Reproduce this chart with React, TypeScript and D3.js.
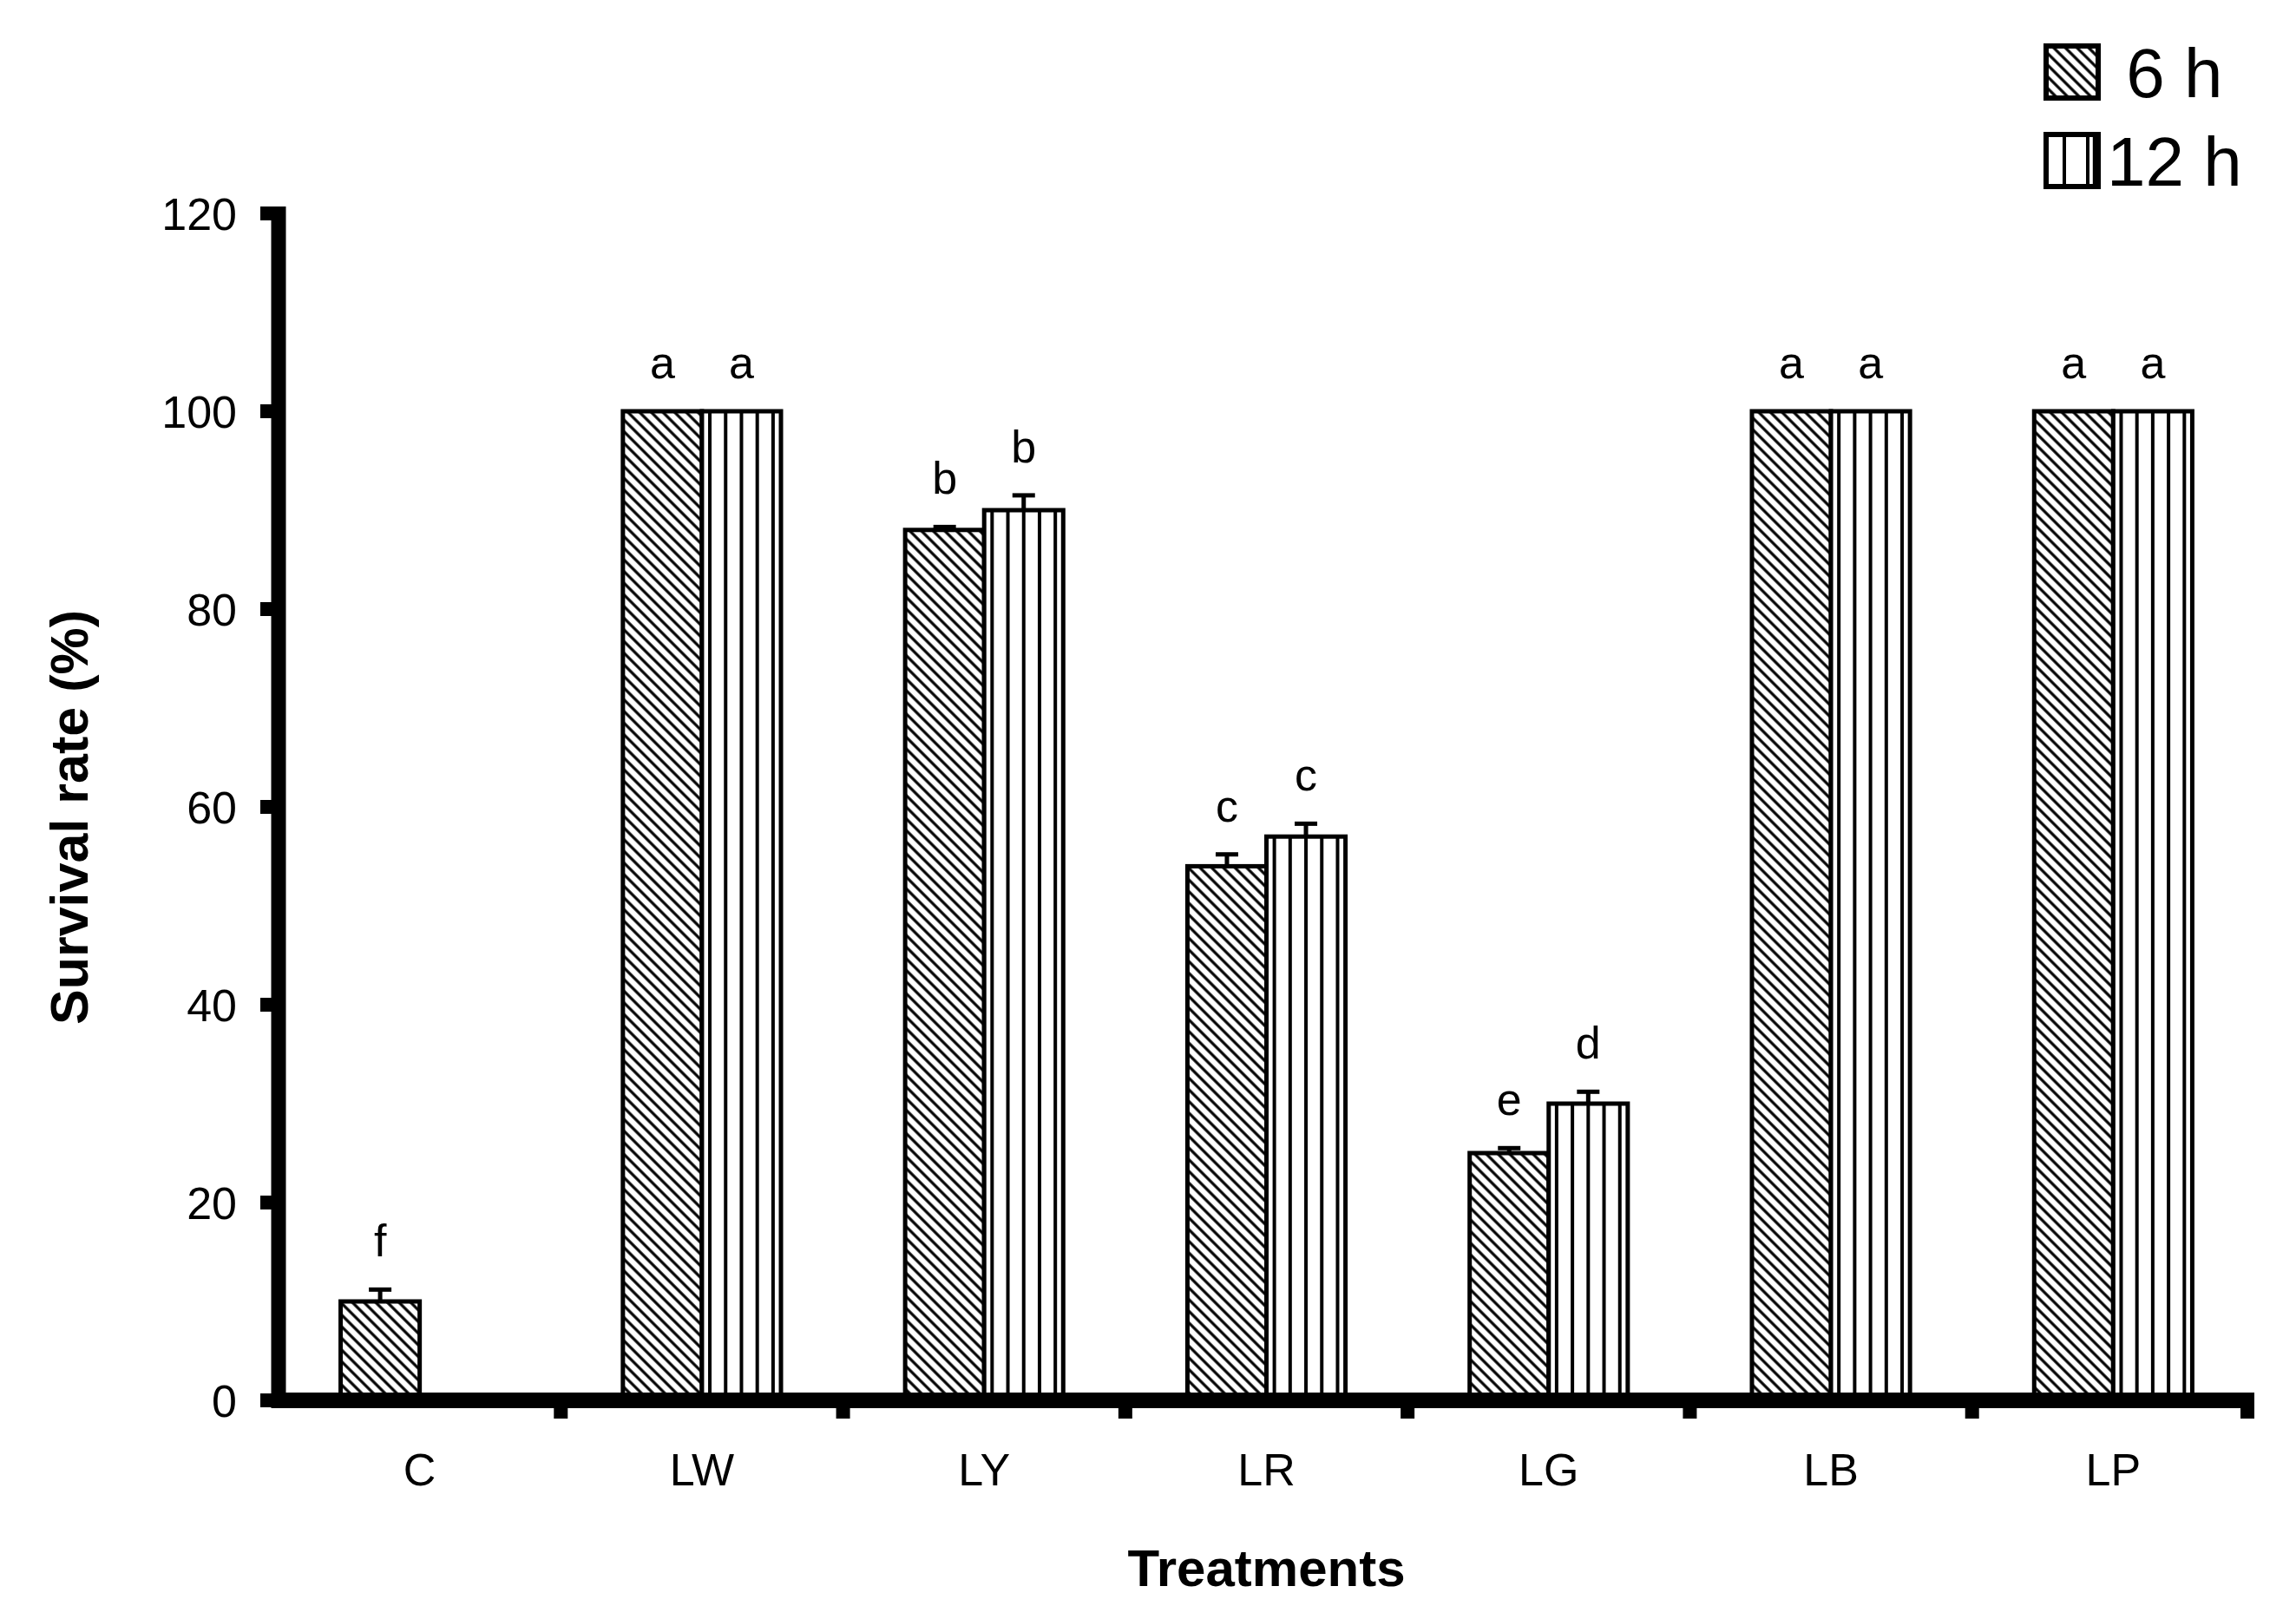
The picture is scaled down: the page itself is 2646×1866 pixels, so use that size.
import { useRef, useEffect } from 'react'
import * as d3 from 'd3'

const categories = ['C', 'LW', 'LY', 'LR', 'LG', 'LB', 'LP']
const seriesNames = ['6 h', '12 h']
const values6h: (number | null)[] = [10, 100, 88, 54, 25, 100, 100]
const values12h: (number | null)[] = [null, 100, 90, 57, 30, 100, 100]
const errors6h = [1.2, 0, 0.3, 1.2, 0.5, 0, 0]
const errors12h = [0, 0, 1.5, 1.3, 1.2, 0, 0]
const letters6h = ['f', 'a', 'b', 'c', 'e', 'a', 'a']
const letters12h = ['', 'a', 'b', 'c', 'd', 'a', 'a']
const yTicks = [0, 20, 40, 60, 80, 100, 120]

const FONT = '"Liberation Sans", Arial, Helvetica, sans-serif'

interface BarDatum {
  cat: string
  s: number
  v: number
  e: number
  letter: string
}

export default function App() {
  const svgRef = useRef<SVGSVGElement>(null)

  useEffect(() => {
    if (!svgRef.current) return
    const svg = d3.select(svgRef.current)
    svg.selectAll('*').remove()

    // Scales
    const x = d3.scaleBand<string>().domain(categories).range([321, 2598])
    const y = d3.scaleLinear().domain([0, 120]).range([1614, 246])
    const barW = x.bandwidth() * 0.28

    // Patterns
    const defs = svg.append('defs')
    const hatch = defs
      .append('pattern')
      .attr('id', 'hatch')
      .attr('patternUnits', 'userSpaceOnUse')
      .attr('width', 9.5)
      .attr('height', 9.5)
      .attr('patternTransform', 'rotate(-45)')
    hatch.append('rect').attr('width', 9.5).attr('height', 9.5).attr('fill', '#fff')
    hatch
      .append('line')
      .attr('x1', 4.75)
      .attr('x2', 4.75)
      .attr('y1', 0)
      .attr('y2', 9.5)
      .attr('stroke', '#000')
      .attr('stroke-width', 3.2)

    // Flatten data
    const bars: BarDatum[] = []
    categories.forEach((c, i) => {
      if (values6h[i] != null)
        bars.push({ cat: c, s: 0, v: values6h[i] as number, e: errors6h[i], letter: letters6h[i] })
      if (values12h[i] != null)
        bars.push({ cat: c, s: 1, v: values12h[i] as number, e: errors12h[i], letter: letters12h[i] })
    })
    const center = (c: string) => (x(c) as number) + x.bandwidth() / 2
    const barX = (d: BarDatum) => (d.s === 0 ? center(d.cat) - barW : center(d.cat))

    const g = svg.append('g')

    // Bars
    g.selectAll('.bar')
      .data(bars)
      .join('rect')
      .attr('class', 'bar')
      .attr('x', barX)
      .attr('y', (d) => y(d.v))
      .attr('width', barW)
      .attr('height', (d) => y(0) - y(d.v))
      .attr('fill', (d) => (d.s === 0 ? 'url(#hatch)' : '#fff'))
      .attr('stroke', '#000')
      .attr('stroke-width', 5)

    // Vertical stripes for 12 h
    bars
      .filter((d) => d.s === 1)
      .forEach((d) => {
        d3.range(5).forEach((k) => {
          const lx = barX(d) + (barW * (k + 0.5)) / 5
          g.append('line')
            .attr('x1', lx)
            .attr('x2', lx)
            .attr('y1', y(d.v))
            .attr('y2', y(0))
            .attr('stroke', '#000')
            .attr('stroke-width', 4)
        })
      })

    // Error bars
    const errs = bars.filter((d) => d.e > 0)
    g.selectAll('.err')
      .data(errs)
      .join('line')
      .attr('x1', (d) => barX(d) + barW / 2)
      .attr('x2', (d) => barX(d) + barW / 2)
      .attr('y1', (d) => y(d.v))
      .attr('y2', (d) => y(d.v + d.e))
      .attr('stroke', '#000')
      .attr('stroke-width', 5)
    g.selectAll('.cap')
      .data(errs)
      .join('line')
      .attr('x1', (d) => barX(d) + barW / 2 - 13)
      .attr('x2', (d) => barX(d) + barW / 2 + 13)
      .attr('y1', (d) => y(d.v + d.e))
      .attr('y2', (d) => y(d.v + d.e))
      .attr('stroke', '#000')
      .attr('stroke-width', 5)

    // Significance letters
    g.selectAll('.letter')
      .data(bars.filter((d) => d.letter))
      .join('text')
      .attr('x', (d) => barX(d) + barW / 2)
      .attr('y', (d) => y(d.v + d.e) - 38)
      .attr('text-anchor', 'middle')
      .attr('font-family', FONT)
      .attr('font-size', 52)
      .text((d) => d.letter)

    // Y axis
    g.append('line')
      .attr('x1', 321)
      .attr('x2', 321)
      .attr('y1', y(120) - 8)
      .attr('y2', y(0) + 9)
      .attr('stroke', '#000')
      .attr('stroke-width', 17)
    yTicks.forEach((t) => {
      g.append('line')
        .attr('x1', 300)
        .attr('x2', 321)
        .attr('y1', y(t))
        .attr('y2', y(t))
        .attr('stroke', '#000')
        .attr('stroke-width', 16)
      g.append('text')
        .attr('x', 273)
        .attr('y', y(t) + 19)
        .attr('text-anchor', 'end')
        .attr('font-family', FONT)
        .attr('font-size', 52)
        .text(t)
    })

    // X axis
    const [x0, x1] = x.range()
    g.append('line')
      .attr('x1', x0 - 8)
      .attr('x2', x1)
      .attr('y1', y(0))
      .attr('y2', y(0))
      .attr('stroke', '#000')
      .attr('stroke-width', 18)
    categories.forEach((c) => {
      const tx = Math.min((x(c) as number) + x.bandwidth(), x1 - 8)
      g.append('line')
        .attr('x1', tx)
        .attr('x2', tx)
        .attr('y1', y(0))
        .attr('y2', y(0) + 21)
        .attr('stroke', '#000')
        .attr('stroke-width', 16)
      g.append('text')
        .attr('x', center(c))
        .attr('y', 1712)
        .attr('text-anchor', 'middle')
        .attr('font-family', FONT)
        .attr('font-size', 52)
        .text(c)
    })

    // Axis titles
    g.append('text')
      .attr('x', (x0 + x1) / 2)
      .attr('y', 1828)
      .attr('text-anchor', 'middle')
      .attr('font-family', FONT)
      .attr('font-weight', 'bold')
      .attr('font-size', 60)
      .text('Treatments')
    g.append('text')
      .attr('transform', 'translate(101,942) rotate(-90)')
      .attr('text-anchor', 'middle')
      .attr('font-family', FONT)
      .attr('font-weight', 'bold')
      .attr('font-size', 61)
      .text('Survival rate (%)')

    // Legend
    const boxSize = 60
    seriesNames.forEach((name, i) => {
      const ly = 53 + i * 102
      const lg = g.append('g').attr('transform', `translate(2358,${ly})`)
      lg.append('rect')
        .attr('width', boxSize)
        .attr('height', boxSize)
        .attr('fill', i === 0 ? 'url(#hatch)' : '#fff')
        .attr('stroke', '#000')
        .attr('stroke-width', 6)
      if (i === 1) {
        ;[0.35, 0.8, 0.93].forEach((f) => {
          lg.append('line')
            .attr('x1', boxSize * f)
            .attr('x2', boxSize * f)
            .attr('y1', 0)
            .attr('y2', boxSize)
            .attr('stroke', '#000')
            .attr('stroke-width', 4)
        })
      }
      lg.append('text')
        .attr('x', 70)
        .attr('y', 59)
        .attr('font-family', FONT)
        .attr('font-size', 80)
        .style('white-space', 'pre')
        .text(i === 0 ? ' ' + name : name)
    })
  }, [])

  return (
    <svg
      ref={svgRef}
      width={2646}
      height={1866}
      style={{ position: 'absolute', left: 0, top: 0, background: '#fff' }}
    />
  )
}
